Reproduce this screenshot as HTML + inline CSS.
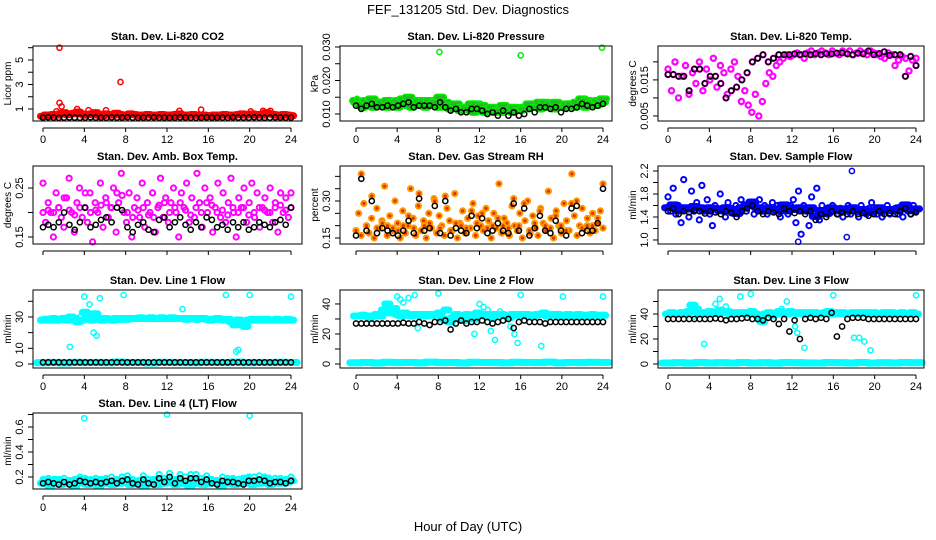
<!DOCTYPE html>
<html><head><meta charset="utf-8"><style>
body{margin:0;background:#fff}
svg{display:block;font-family:"Liberation Sans",Arial,sans-serif}
</style></head><body>
<svg id="c" width="936" height="540" viewBox="0 0 936 540" xmlns="http://www.w3.org/2000/svg">
<rect width="936" height="540" fill="#fff"/>
<text x="468" y="14" text-anchor="middle" font-size="13">FEF_131205  Std. Dev. Diagnostics</text>
<text x="468" y="531" text-anchor="middle" font-size="13">Hour of Day (UTC)</text>
</svg>
<script>
const hourTicks=[0,4,8,12,16,20,24];
const co2Color=[0.4,0.5,0.45,0.55,0.5,0.6,0.7,0.55,0.6,0.65,0.75,0.6,0.5,0.55,0.6,0.7,0.5,0.45,0.6,0.55,0.5,0.65,0.55,0.45,0.5,0.6,0.55,0.5,0.45,0.5,0.55,0.5,0.45,0.5,0.55,0.45,0.5,0.45,0.55,0.6,0.5,0.45,0.5,0.55,0.5,0.45,0.5,0.4,0.45,0.5,0.45,0.5,0.55,0.5,0.45,0.5,0.55,0.6,0.5,0.55,0.6,0.5,0.55,0.5,0.7,0.6,0.55,0.5,0.45,0.55,0.5,0.45];
const co2Black=[0.3,0.32,0.3,0.28,0.3,0.31,0.3,0.29,0.3,0.32,0.3,0.3,0.29,0.31,0.3,0.3,0.32,0.3,0.29,0.3,0.3,0.31,0.3,0.3,0.29,0.3,0.31,0.3,0.3,0.29,0.3,0.31,0.3,0.3,0.3,0.29,0.31,0.3,0.3,0.3,0.32,0.3,0.29,0.3,0.31,0.3,0.3,0.3];
const co2OutX=[1.6,1.6,1.8,7.5,1.3,3.3,4.4,6.1,13.2,15.3,20.1,21.3,22.0];
const co2OutY=[6.0,1.5,1.2,3.2,0.8,1.0,0.9,0.9,0.85,0.95,0.8,0.85,0.85];
const presColor=[0.0135,0.013,0.012,0.0125,0.013,0.012,0.0135,0.0125,0.013,0.012,0.0125,0.013,0.012,0.0135,0.013,0.0125,0.012,0.013,0.0125,0.013,0.012,0.0135,0.0125,0.013,0.012,0.0125,0.013,0.0115,0.012,0.0125,0.011,0.0115,0.012,0.011,0.0105,0.0115,0.011,0.0105,0.011,0.0115,0.0105,0.011,0.0105,0.0115,0.011,0.0105,0.011,0.0115,0.012,0.0115,0.012,0.0125,0.012,0.0115,0.012,0.0125,0.012,0.0115,0.012,0.0125,0.012,0.013,0.0125,0.012,0.0125,0.013,0.012,0.0125,0.013,0.0125,0.013,0.0135];
const presBlack=[0.0125,0.0115,0.0125,0.013,0.012,0.012,0.0125,0.012,0.0125,0.013,0.0135,0.012,0.0125,0.0125,0.0125,0.012,0.0135,0.012,0.011,0.0115,0.0105,0.0105,0.0115,0.0115,0.011,0.01,0.0105,0.0095,0.011,0.0095,0.0105,0.0095,0.01,0.0115,0.0105,0.012,0.012,0.0115,0.012,0.0105,0.0115,0.0115,0.012,0.013,0.0125,0.012,0.0125,0.013];
const presOutX=[8.1,16.0,23.9,0.1];
const presOutY=[0.0285,0.0275,0.0298,0.0145];
const tempColor=[0.018,0.012,0.02,0.01,0.016,0.019,0.011,0.017,0.014,0.02,0.012,0.018,0.015,0.021,0.013,0.019,0.017,0.011,0.018,0.02,0.016,0.009,0.012,0.008,0.006,0.011,0.005,0.009,0.014,0.017,0.016,0.019,0.02,0.021,0.022,0.0215,0.022,0.0225,0.022,0.021,0.0225,0.023,0.022,0.0225,0.023,0.0225,0.022,0.023,0.0225,0.022,0.023,0.0225,0.023,0.022,0.0225,0.023,0.0225,0.022,0.023,0.0225,0.022,0.0215,0.021,0.0225,0.022,0.019,0.0205,0.0215,0.021,0.0175,0.0205,0.021];
const tempBlack=[0.0165,0.0165,0.016,0.016,0.012,0.018,0.018,0.014,0.016,0.016,0.014,0.010,0.012,0.013,0.015,0.017,0.020,0.021,0.022,0.020,0.021,0.022,0.022,0.022,0.0222,0.022,0.0222,0.022,0.0223,0.022,0.0223,0.0222,0.0224,0.0225,0.0222,0.022,0.0224,0.0222,0.023,0.022,0.0223,0.0228,0.0218,0.022,0.022,0.016,0.0215,0.019];
const ambColor=[0.26,0.18,0.22,0.20,0.15,0.24,0.21,0.19,0.17,0.23,0.27,0.20,0.16,0.22,0.25,0.19,0.21,0.18,0.24,0.14,0.22,0.20,0.26,0.17,0.23,0.19,0.21,0.25,0.16,0.22,0.28,0.20,0.18,0.24,0.15,0.21,0.23,0.19,0.26,0.17,0.22,0.20,0.24,0.16,0.21,0.27,0.19,0.23,0.18,0.22,0.25,0.20,0.15,0.24,0.21,0.26,0.18,0.23,0.19,0.28,0.22,0.17,0.25,0.20,0.23,0.16,0.21,0.26,0.19,0.24,0.18,0.22,0.27,0.20,0.15,0.23,0.21,0.25,0.18,0.22,0.26,0.19,0.24,0.17,0.21,0.23,0.20,0.25,0.18,0.22,0.16,0.24,0.20,0.23,0.19,0.21];
const ambBlack=[0.17,0.175,0.17,0.18,0.20,0.175,0.165,0.18,0.21,0.17,0.175,0.185,0.19,0.18,0.21,0.205,0.17,0.16,0.175,0.18,0.165,0.16,0.185,0.19,0.17,0.18,0.19,0.175,0.165,0.18,0.17,0.19,0.185,0.17,0.175,0.165,0.18,0.17,0.18,0.165,0.17,0.18,0.175,0.17,0.18,0.185,0.175,0.21];
const rhColor=[0.18,0.25,0.16,0.29,0.20,0.17,0.23,0.15,0.27,0.19,0.22,0.36,0.16,0.24,0.18,0.30,0.21,0.15,0.26,0.17,0.20,0.35,0.23,0.16,0.28,0.18,0.22,0.15,0.25,0.19,0.31,0.17,0.24,0.20,0.16,0.27,0.22,0.18,0.33,0.15,0.21,0.26,0.17,0.23,0.19,0.29,0.16,0.24,0.20,0.18,0.27,0.22,0.15,0.25,0.19,0.37,0.17,0.23,0.21,0.16,0.28,0.20,0.18,0.25,0.15,0.22,0.30,0.17,0.24,0.19,0.16,0.27,0.21,0.18,0.34,0.23,0.15,0.26,0.20,0.17,0.29,0.22,0.18,0.41,0.24,0.16,0.20,0.27,0.19,0.23,0.17,0.25,0.18,0.21,0.26,0.19];
const rhBlack=[0.16,0.39,0.18,0.30,0.17,0.19,0.18,0.17,0.16,0.18,0.22,0.17,0.31,0.18,0.19,0.28,0.17,0.30,0.16,0.19,0.18,0.17,0.24,0.19,0.23,0.17,0.18,0.21,0.18,0.17,0.29,0.18,0.27,0.16,0.19,0.24,0.18,0.17,0.22,0.18,0.16,0.27,0.28,0.17,0.18,0.18,0.21,0.35];
const flowColor=[1.75,1.5,1.9,1.45,1.6,1.3,2.05,1.55,1.4,1.85,1.5,1.65,1.35,1.95,1.5,1.7,1.45,1.25,1.6,1.55,1.8,1.5,1.4,1.65,1.55,1.5,1.6,1.45,1.7,1.55,1.5,1.65,1.6,1.45,1.55,1.7,1.5,1.6,1.45,1.55,1.65,1.5,1.6,1.4,1.55,1.5,1.45,1.6,1.7,1.3,1.85,1.1,1.6,1.5,1.25,1.75,1.45,1.9,1.35,1.6,1.5,1.45,1.55,1.6,1.5,1.45,1.55,1.4,1.5,1.6,1.45,1.55,1.5,1.4,1.6,1.5,1.45,1.55,1.65,1.5,1.45,1.55,1.4,1.5,1.6,1.45,1.5,1.55,1.45,1.5,1.4,1.55,1.5,1.45,1.6,1.5];
const flowBlack=[1.5,1.55,1.45,1.5,1.48,1.52,1.5,1.46,1.5,1.48,1.45,1.5,1.47,1.4,1.5,1.55,1.6,1.5,1.45,1.5,1.48,1.45,1.55,1.5,1.47,1.5,1.45,1.5,1.35,1.45,1.4,1.5,1.45,1.48,1.45,1.5,1.45,1.47,1.42,1.45,1.5,1.45,1.47,1.45,1.5,1.55,1.45,1.48];
const flowOutX=[17.8,17.3,12.6];
const flowOutY=[2.2,1.05,0.97];
const line1High=[28,28.5,28,29,28,28.5,29,28,30,29,27,28,33,29,28,32,29,28,29,28.5,28,29,28.5,29,28.5,29,29,29,29.5,29,29,29.5,29,29,29.5,29,29,29.5,29,29,29,28.5,29,29,28.5,29,29,28.5,28,28.5,29,28.5,28,28.5,27,25,28,27,24,28,28.5,28,28.5,28,28.5,28,28,28.5,28,28,28.5,28];
const line1Black=[1,1,1,1,1,1,1,1,1,1,1,1,1,1,1,1,1,1,1,1,1,1,1,1,1,1,1,1,1,1,1,1,1,1,1,1,1,1,1,1,1,1,1,1,1,1,1,1];
const line1OutX=[4,4.5,5.5,7.8,13.5,17.7,20,24,2.6,18.7,18.9,4.9,5.2,3.6,4.2];
const line1OutY=[43,38,42,44,35,44,44,43,11,8,9,20,18,30,33];
const lowBand=[0.8,1,0.7,1.1,0.9,1,0.8,1.2,0.9,1,0.7,1.1,1,0.9,0.8,1.1,1,0.9,1.2,0.8,1,0.9,1.1,1];
const line2High=[32,32,32.5,32,31,32,33,32,36,40,34,37,33,32,34,33,32,33,32.5,33,32,33,32.5,33,34,30,36,28,31,33,30,29,33,32,30,34,33,32,33,31,33,32.5,33,32,31,33,32.5,33,32,33,32.5,32,33,33,34,32,33,32.5,33,32,32.5,33,32,32.5,33,32,32.5,32,33,32.5,32,32.5];
const line2Black=[27,27,27,27,27,27,27,27,27,27.5,27,27,28,27,26,28,28,29,23,27,29,27,28,28,29,28,27,28,29,30,24,28,29,28,28,28,27,28,28,28,28,28,28,28,28,28,28,28];
const line2OutX=[4,4.3,4.6,5.1,5.7,8,12,12.4,12.8,13.1,13.5,14,15,15.4,15.7,16,20.1,24,6,11.5,18];
const line2OutY=[45,43,41,44,46,47,40,38,36,22,16,35,25,20,14,46,45,45,24,20,12];
const line3High=[40,41,40.5,40,41,40,42,47,44,41,40,41,42,40.5,41,43,41,42,40,41,40.5,41,40,41,42,40,38,34,40,41,39,40,42,41,40,42,41,40.5,41,40,41,40.5,41,40,40.5,41,42,40,41,40.5,41,40,40.5,41,40,41,40.5,41,40,41,40.5,40,41,40.5,41,40,40.5,41,40.5,40,41,40];
const line3Black=[36,36,36,36,36,36,36,36,36,36.5,36,35,36,36,36.5,37,36,36,35,37,36,32,36,26,35,20,36,37,36,37,36,41,22,30,36,37,37,37,36,36,36,36,36,36,36,36,36,36];
const line3OutX=[3.5,4.6,5,5.6,8,11.5,12.3,12.5,13.2,14,16,18,18.5,19,19.6,24,2.5,11,7];
const line3OutY=[16,48,52,46,56,50,30,25,13,40,55,21,21,18,11,55,38,44,54];
const line4Color=[0.15,0.17,0.13,0.16,0.18,0.14,0.16,0.15,0.17,0.13,0.16,0.18,0.15,0.14,0.17,0.16,0.13,0.18,0.15,0.16,0.14,0.17,0.15,0.16,0.18,0.14,0.16,0.15,0.17,0.13,0.16,0.15,0.18,0.14,0.16,0.15,0.17,0.16,0.14,0.18,0.15,0.16,0.13,0.17,0.15,0.16,0.14,0.18,0.15,0.16,0.17,0.13,0.16,0.15,0.18,0.14,0.16,0.15,0.19,0.16,0.14,0.17,0.15,0.16,0.19,0.14,0.16,0.15,0.17,0.15,0.16,0.17];
const line4Black=[0.15,0.16,0.15,0.14,0.16,0.14,0.15,0.17,0.16,0.15,0.16,0.15,0.16,0.17,0.15,0.17,0.18,0.15,0.14,0.18,0.15,0.14,0.19,0.16,0.2,0.15,0.19,0.17,0.19,0.19,0.16,0.18,0.15,0.14,0.17,0.16,0.16,0.15,0.14,0.17,0.17,0.18,0.17,0.15,0.16,0.16,0.15,0.17];
const line4OutX=[4,12,20];
const line4OutY=[0.67,0.70,0.69];

const svg=document.getElementById('c');
const NS='http://www.w3.org/2000/svg';
function mk(tag,at,parent){const e=document.createElementNS(NS,tag);for(const k in at)e.setAttribute(k,at[k]);(parent||svg).appendChild(e);return e;}
const cols=[{bl:33,br:302,x0:43,x24:291},{bl:340,br:612,x0:356,x24:603},{bl:658,br:924,x0:668,x24:916}];
const rows=[{t:46,b:121},{t:166,b:244},{t:290,b:368},{t:413,b:489}];
function idxX(arr){return arr.map((v,i)=>i*24/(arr.length-1));}
function panel(p){
  const c=cols[p.col],r=rows[p.row];
  const g=mk('g',{});
  
  
  const sx=h=>c.x0+(h/24)*(c.x24-c.x0);
  const sy=v=>r.b-(v-p.ymin)/(p.ymax-p.ymin)*(r.b-r.t);
  const t=mk('text',{x:(c.bl+c.br)/2,y:r.t-6,'text-anchor':'middle','font-size':11,'font-weight':'bold'},g);
  t.textContent=p.title;
  
  
  p.series.forEach(s=>{
    const sg=mk('g',{fill:s.fill||'none',stroke:s.color,'stroke-width':s.sw||1.5},g);
    
    
    const xs=s.xs||idxX(s.ys);
    const half=s.dense?(c.x24-c.x0)/(s.ys.length-1)/2+1:0;
    s.ys.forEach((v,i)=>{
      const y=sy(v);if(y<r.t-3||y>r.b+3)return;
      let el;
      if(s.dense){
        el=mk('rect',{x:(sx(xs[i])-half-2.6).toFixed(1),y:(y-2.8).toFixed(1),width:(2*half+5.2).toFixed(1),height:5.6,rx:2.8},sg);
      } else {
        el=mk('circle',{cx:sx(xs[i]).toFixed(1),cy:y.toFixed(1),r:2.6},sg);
      }
      
      
    });
  });
  mk('rect',{x:c.bl,y:r.t,width:c.br-c.bl,height:r.b-r.t,fill:'none',stroke:'#000','stroke-width':1},g);
  const ax=mk('g',{stroke:'#000','stroke-width':1},g);
  
  
  mk('line',{x1:sx(0),x2:sx(24),y1:r.b+7,y2:r.b+7},ax);
  hourTicks.forEach(h=>{
    mk('line',{x1:sx(h),x2:sx(h),y1:r.b+7,y2:r.b+11},ax);
    if(p.row!==1){const tl=mk('text',{x:sx(h),y:r.b+22,'text-anchor':'middle','font-size':11,stroke:'none',fill:'#000'},g);tl.textContent=h;
      
      }
  });
  const ay=mk('g',{stroke:'#000','stroke-width':1},g);
  
  
  p.ticks.forEach(v=>{const y=sy(v);mk('line',{x1:c.bl-5,x2:c.bl,y1:y,y2:y},ay);});
  p.labels.forEach(v=>{const y=sy(v);
    const tl=mk('text',{transform:`translate(${c.bl-10},${y}) rotate(-90)`,'text-anchor':'middle','font-size':11,fill:'#000'},g);
    tl.textContent=p.fmt?v.toFixed(p.fmt):String(v);
    
    });
  const yt=mk('text',{transform:`translate(${c.bl-22},${(r.t+r.b)/2}) rotate(-90)`,'text-anchor':'middle','font-size':10,fill:'#000'},g);
  yt.textContent=p.ylab;
  
  
}
panel({name:'co2-panel',col:0,row:0,title:'Stan. Dev. Li-820 CO2',ylab:'Licor ppm',ymin:0.02,ymax:6.14,ticks:[1,2,3,4,5,6],labels:[1,3,5],
 series:[{name:'co2-series',color:'#ff0000',fill:'#ff0000',dense:true,ys:co2Color},{name:'co2-outliers',color:'#ff0000',xs:co2OutX,ys:co2OutY},{name:'co2-mean',color:'#000',ys:co2Black}]});
panel({name:'pressure-panel',col:1,row:0,title:'Stan. Dev. Li-820 Pressure',ylab:'kPa',ymin:0.0079,ymax:0.0303,ticks:[0.010,0.015,0.020,0.025,0.030],labels:[0.010,0.020,0.030],fmt:3,
 series:[{name:'pressure-series',color:'#00ee00',fill:'#22bb22',dense:true,ys:presColor},{name:'pressure-series-b',color:'#00ee00',fill:'#22bb22',dense:true,ys:presBlack.map(v=>v+0.0015)},{name:'pressure-outliers',color:'#00ee00',xs:presOutX,ys:presOutY},{name:'pressure-mean',color:'#000',ys:presBlack}]});
panel({name:'temp-panel',col:2,row:0,title:'Stan. Dev. Li-820 Temp.',ylab:'degrees C',ymin:0.0036,ymax:0.0244,ticks:[0.005,0.010,0.015,0.020],labels:[0.005,0.015],fmt:3,
 series:[{name:'temp-series',color:'#ff00ff',sw:2.2,ys:tempColor},{name:'temp-series-b',color:'#ff00ff',sw:2.2,ys:tempBlack},{name:'temp-mean',color:'#000',ys:tempBlack}]});
panel({name:'amb-temp-panel',col:0,row:1,title:'Stan. Dev. Amb. Box Temp.',ylab:'degrees C',ymin:0.1357,ymax:0.295,ticks:[0.15,0.20,0.25],labels:[0.15,0.25],fmt:2,
 series:[{name:'amb-series',color:'#ff00ff',sw:2,ys:ambColor},{name:'amb-series-b',color:'#ff00ff',sw:2,ys:ambBlack.map(v=>v+0.03)},{name:'amb-mean',color:'#000',ys:ambBlack}]});
panel({name:'rh-panel',col:1,row:1,title:'Stan. Dev. Gas Stream RH',ylab:'percent',ymin:0.1257,ymax:0.442,ticks:[0.15,0.20,0.25,0.30,0.35,0.40],labels:[0.15,0.30],fmt:2,
 series:[{name:'rh-series',color:'#ff9900',fill:'#dd3300',sw:2,ys:rhColor},{name:'rh-series-b',color:'#ff9900',fill:'#dd3300',sw:2,ys:rhBlack.map(v=>v+0.02)},{name:'rh-mean',color:'#000',ys:rhBlack}]});
panel({name:'sample-flow-panel',col:2,row:1,title:'Stan. Dev. Sample Flow',ylab:'ml/min',ymin:0.93,ymax:2.287,ticks:[1.0,1.2,1.4,1.6,1.8,2.0,2.2],labels:[1.0,1.4,1.8,2.2],fmt:1,
 series:[{name:'flow-series',color:'#0000ff',sw:2,ys:flowColor},{name:'flow-band',color:'#0000ff',fill:'#0000ff',dense:true,ys:flowBlack.map(v=>v+0.06)},{name:'flow-outliers',color:'#0000ff',xs:flowOutX,ys:flowOutY},{name:'flow-mean',color:'#000',ys:flowBlack}]});
panel({name:'line1-panel',col:0,row:2,title:'Stan. Dev. Line 1 Flow',ylab:'ml/min',ymin:-2.55,ymax:47.2,ticks:[0,10,20,30,40],labels:[0,10,30],
 series:[{name:'line1-series',color:'#00ffff',fill:'#00ffff',dense:true,ys:line1High},{name:'line1-outliers',color:'#00ffff',xs:line1OutX,ys:line1OutY},{name:'line1-low',color:'#00ffff',fill:'#00ffff',dense:true,ys:lowBand},{name:'line1-mean',color:'#000',ys:line1Black}]});
panel({name:'line2-panel',col:1,row:2,title:'Stan. Dev. Line 2 Flow',ylab:'ml/min',ymin:-2.67,ymax:49.3,ticks:[0,10,20,30,40],labels:[0,20,40],
 series:[{name:'line2-low',color:'#00ffff',fill:'#00ffff',dense:true,ys:lowBand},{name:'line2-series',color:'#00ffff',fill:'#00ffff',dense:true,ys:line2High},{name:'line2-outliers',color:'#00ffff',xs:line2OutX,ys:line2OutY},{name:'line2-mean',color:'#000',ys:line2Black}]});
panel({name:'line3-panel',col:2,row:2,title:'Stan. Dev. Line 3 Flow',ylab:'ml/min',ymin:-3.2,ymax:59.2,ticks:[0,10,20,30,40,50],labels:[0,20,40],
 series:[{name:'line3-low',color:'#00ffff',fill:'#00ffff',dense:true,ys:lowBand},{name:'line3-series',color:'#00ffff',fill:'#00ffff',dense:true,ys:line3High},{name:'line3-outliers',color:'#00ffff',xs:line3OutX,ys:line3OutY},{name:'line3-mean',color:'#000',ys:line3Black}]});
panel({name:'line4-panel',col:0,row:3,title:'Stan. Dev. Line 4 (LT) Flow',ylab:'ml/min',ymin:0.104,ymax:0.712,ticks:[0.2,0.3,0.4,0.5,0.6,0.7],labels:[0.2,0.4,0.6],fmt:1,
 series:[{name:'line4-series',color:'#00ffff',fill:'#00ffff',dense:true,ys:line4Color},{name:'line4-series-b',color:'#00ffff',sw:2,ys:line4Black.map(v=>v+0.03)},{name:'line4-outliers',color:'#00ffff',xs:line4OutX,ys:line4OutY},{name:'line4-mean',color:'#000',ys:line4Black}]});
</script>
</body></html>
